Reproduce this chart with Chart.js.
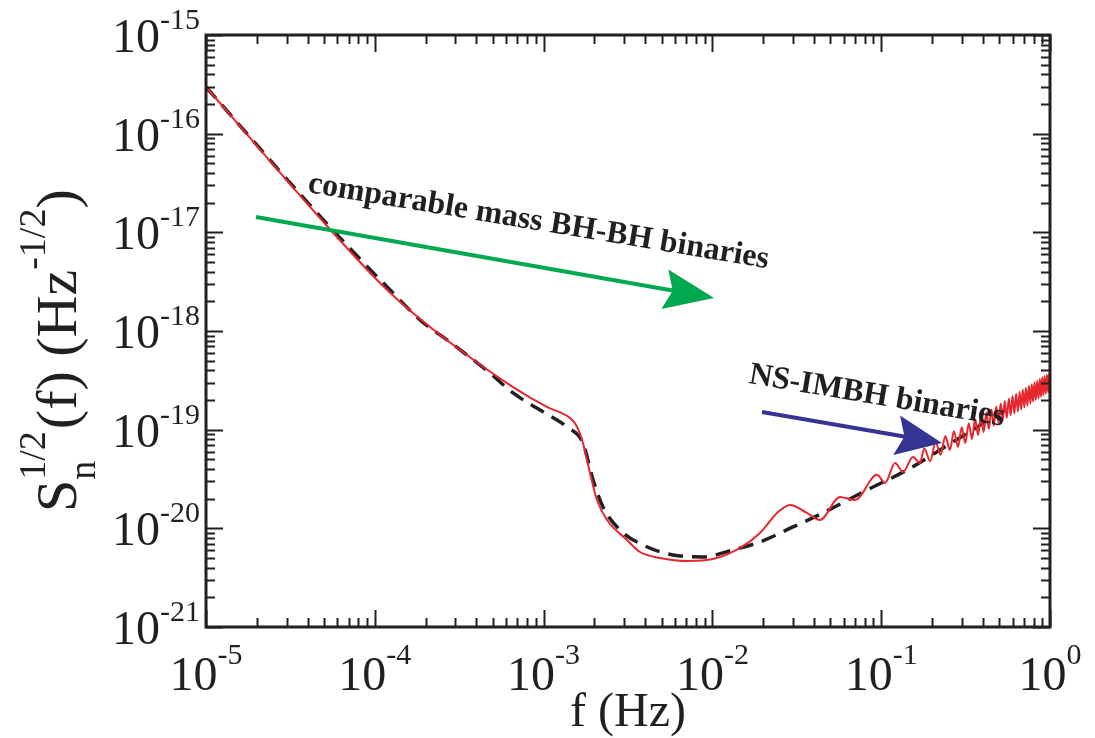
<!DOCTYPE html>
<html lang="en">
<head>
<meta charset="UTF-8">
<title>Sensitivity curve</title>
<script src="https://cdn.jsdelivr.net/npm/chart.js@4"></script>
<style>
    html, body { margin: 0; padding: 0; background: #fff; }
</style>
</head>
<body>
<canvas id="myChart" width="1095" height="738"></canvas>
<script>
// all values are log10: f in Hz, S_n^1/2 in Hz^-1/2
const v_fitLogF = [-5.000, -4.283, -3.892, -3.732, -3.572, -3.318, -3.181, -3.021, -2.861, -2.767,
    -2.707, -2.648, -2.547, -2.411, -2.233, -2.056, -1.878, -1.718, -1.522, -1.345,
    -1.084, -0.847, -0.652, -0.296, 0.000];
const v_fitLogS = [-15.527, -16.915, -17.615, -17.888, -18.091, -18.426, -18.628, -18.801, -18.973, -19.135,
    -19.510, -19.784, -20.017, -20.169, -20.270, -20.290, -20.219, -20.138, -19.986, -19.844,
    -19.611, -19.409, -19.206, -18.830, -18.517];

const v_simLogF = [-5.000, -4.283, -3.969, -3.774, -3.495, -3.181, -2.980, -2.844, -2.805, -2.767,
    -2.725, -2.684, -2.624, -2.506, -2.429, -2.310, -2.150, -1.996, -1.836, -1.718,
    -1.617, -1.540, -1.440, -1.363, -1.244, -1.155, -1.025, -0.977, -0.918, -0.870,
    -0.812, -0.770,
    -0.745, -0.710, -0.678, -0.648, -0.620, -0.593, -0.569, -0.545, -0.523, -0.502,
    -0.481, -0.462, -0.444, -0.426, -0.409, -0.393, -0.377, -0.362, -0.347, -0.333,
    -0.319, -0.305, -0.292, -0.280, -0.268, -0.256, -0.244, -0.233, -0.222, -0.211,
    -0.201, -0.190, -0.180, -0.171, -0.161, -0.152, -0.143, -0.134, -0.125, -0.116,
    -0.108, -0.100, -0.092, -0.084, -0.076, -0.068, -0.060, -0.053, -0.046, -0.039,
    -0.032, -0.025, -0.018, -0.011, -0.004, 0.000];
const v_simLogS = [-15.527, -16.936, -17.513, -17.818, -18.193, -18.568, -18.770, -18.882, -18.960, -19.135,
    -19.439, -19.713, -19.915, -20.118, -20.240, -20.300, -20.331, -20.311, -20.199, -20.047,
    -19.844, -19.763, -19.844, -19.915, -19.682, -19.712, -19.458, -19.540, -19.337, -19.428,
    -19.276, -19.337,
    -19.190, -19.320, -19.125, -19.255, -19.065, -19.205, -19.015, -19.175, -18.975, -19.135,
    -18.935, -19.095, -18.895, -19.055, -18.860, -19.025, -18.825, -18.990, -18.795, -18.960,
    -18.765, -18.930, -18.735, -18.905, -18.710, -18.880, -18.685, -18.855, -18.660, -18.835,
    -18.635, -18.815, -18.615, -18.795, -18.595, -18.775, -18.575, -18.755, -18.555, -18.735,
    -18.540, -18.715, -18.520, -18.700, -18.505, -18.685, -18.485, -18.665, -18.470, -18.650,
    -18.455, -18.635, -18.440, -18.625, -18.425, -18.520];

const v_xTickExps = [-5, -4, -3, -2, -1, 0];
const v_yTickExps = [-21, -20, -19, -18, -17, -16, -15];

// arrows: [start, tip] in log10 data units
const v_bhArrow = [[-4.704, -16.845], [-1.990, -17.665]];
const v_nsArrow = [[-1.706, -18.821], [-0.640, -19.135]];
const v_bhLabel = { text: "comparable mass BH-BH binaries", at: [-4.402, -16.591] };
const v_nsLabel = { text: "NS-IMBH binaries", at: [-1.789, -18.527] };

const c_ink = "#231f20";
const c_serif = '"Liberation Serif", "DejaVu Serif", serif';

function f_points(p_lf, p_ls) {
    let v_out = [];
    for (let i = 0; i < p_lf.length; i++) {
        v_out.push({ x: Math.pow(10, p_lf[i]), y: Math.pow(10, p_ls[i]) });
    }
    return v_out;
}

function f_px(p_chart, p_pt) {
    return [p_chart.scales.x.getPixelForValue(Math.pow(10, p_pt[0])),
            p_chart.scales.y.getPixelForValue(Math.pow(10, p_pt[1]))];
}

function f_arrow(ctx, p_chart, p_arrow, p_color, p_len, p_half) {
    let a = f_px(p_chart, p_arrow[0]);
    let b = f_px(p_chart, p_arrow[1]);
    let ang = Math.atan2(b[1] - a[1], b[0] - a[0]);
    let bx = b[0] - p_len * Math.cos(ang);
    let by = b[1] - p_len * Math.sin(ang);
    ctx.save();
    ctx.strokeStyle = p_color;
    ctx.fillStyle = p_color;
    ctx.lineWidth = 4;
    ctx.beginPath();
    ctx.moveTo(a[0], a[1]);
    ctx.lineTo(bx + 4 * Math.cos(ang), by + 4 * Math.sin(ang));
    ctx.stroke();
    ctx.beginPath();
    ctx.moveTo(b[0], b[1]);
    ctx.lineTo(bx - p_half * Math.sin(ang) - 8 * Math.cos(ang), by + p_half * Math.cos(ang) - 8 * Math.sin(ang));
    ctx.lineTo(bx, by);
    ctx.lineTo(bx + p_half * Math.sin(ang) - 8 * Math.cos(ang), by - p_half * Math.cos(ang) - 8 * Math.sin(ang));
    ctx.closePath();
    ctx.fill();
    ctx.restore();
}

function f_label(ctx, p_chart, p_label, p_deg) {
    let p = f_px(p_chart, p_label.at);
    ctx.save();
    ctx.translate(p[0], p[1]);
    ctx.rotate(p_deg * Math.PI / 180);
    ctx.font = "bold 32px " + c_serif;
    ctx.fillStyle = c_ink;
    ctx.textBaseline = "alphabetic";
    ctx.fillText(p_label.text, 0, 0);
    ctx.restore();
}

const framePlugin = {
    id: "frame",
    afterDatasetsDraw(chart) {
        const ctx = chart.ctx;
        const a = chart.chartArea;
        const sx = chart.scales.x, sy = chart.scales.y;

        f_arrow(ctx, chart, v_bhArrow, "#00a84f", 42, 20);
        f_arrow(ctx, chart, v_nsArrow, "#343492", 38, 20);
        f_label(ctx, chart, v_bhLabel, 9.4);
        f_label(ctx, chart, v_nsLabel, 9.5);

        ctx.save();
        ctx.strokeStyle = c_ink;
        ctx.lineWidth = 2;
        ctx.beginPath();
        // ticks on x (bottom and top), pointing inward
        for (let e = -5; e <= 0; e++) {
            for (let k = 1; k <= 9; k++) {
                let v = k * Math.pow(10, e);
                if (v > 1.0001) continue;
                let x = Math.round(sx.getPixelForValue(v)) + 0.5;
                let len = (k === 1) ? 17 : 9;
                ctx.moveTo(x, a.bottom); ctx.lineTo(x, a.bottom - len);
                ctx.moveTo(x, a.top); ctx.lineTo(x, a.top + len);
            }
        }
        // ticks on y (left and right)
        for (let e = -21; e <= -15; e++) {
            for (let k = 1; k <= 9; k++) {
                let v = k * Math.pow(10, e);
                if (v > 1.0001e-15) continue;
                let y = Math.round(sy.getPixelForValue(v)) + 0.5;
                let len = (k === 1) ? 17 : 9;
                ctx.moveTo(a.left, y); ctx.lineTo(a.left + len, y);
                ctx.moveTo(a.right, y); ctx.lineTo(a.right - len, y);
            }
        }
        ctx.stroke();
        ctx.lineWidth = 3;
        ctx.strokeRect(a.left, a.top, a.right - a.left, a.bottom - a.top);
        ctx.restore();
    },
    afterDraw(chart) {
        const ctx = chart.ctx;
        const a = chart.chartArea;
        const sx = chart.scales.x, sy = chart.scales.y;
        const big = "48px " + c_serif;
        const small = "30px " + c_serif;
        ctx.save();
        ctx.fillStyle = c_ink;
        ctx.textBaseline = "alphabetic";
        ctx.textAlign = "left";

        // x tick labels
        for (const e of v_xTickExps) {
            let x = sx.getPixelForValue(Math.pow(10, e));
            ctx.font = big;
            let w10 = ctx.measureText("10").width;
            ctx.font = small;
            let we = ctx.measureText(String(e)).width;
            let x0 = x - (w10 + we) / 2;
            ctx.font = big;
            ctx.fillText("10", x0, 690);
            ctx.font = small;
            ctx.fillText(String(e), x0 + w10, 664);
        }
        // y tick labels
        for (const e of v_yTickExps) {
            let y = sy.getPixelForValue(Math.pow(10, e));
            ctx.font = small;
            let we = ctx.measureText(String(e)).width;
            ctx.font = big;
            let w10 = ctx.measureText("10").width;
            let xEnd = a.left - 6;
            ctx.fillText("10", xEnd - we - w10, y + 17);
            ctx.font = small;
            ctx.fillText(String(e), xEnd - we, y - 6);
        }

        // x title
        ctx.font = big;
        ctx.textAlign = "center";
        ctx.fillText("f (Hz)", (a.left + a.right) / 2, 726);

        // y title, rotated
        ctx.textAlign = "left";
        ctx.translate(76, 512);
        ctx.rotate(-Math.PI / 2);
        const tBig = "58px " + c_serif;
        const tSmall = "38px " + c_serif;
        let x = 0;
        ctx.font = tBig;
        ctx.fillText("S", x, 0);
        x += ctx.measureText("S").width;
        ctx.font = tSmall;
        ctx.fillText("n", x, 19);
        ctx.fillText("1/2", x, -31);
        x += Math.max(ctx.measureText("n").width, ctx.measureText("1/2").width) + 2;
        ctx.font = tBig;
        ctx.fillText("(f) (Hz", x, 0);
        x += ctx.measureText("(f) (Hz").width;
        ctx.font = tSmall;
        ctx.fillText("-1/2", x, -31);
        x += ctx.measureText("-1/2").width;
        ctx.font = tBig;
        ctx.fillText(")", x, 0);
        ctx.restore();
    }
};

const ctx = document.getElementById("myChart");
let myChart = new Chart(ctx, {
    type: "line",
    data: {
        datasets: [{
            data: f_points(v_simLogF, v_simLogS),
            borderColor: "#e8262d",
            borderWidth: 2,
            pointRadius: 0,
            cubicInterpolationMode: "monotone"
        }, {
            data: f_points(v_fitLogF, v_fitLogS),
            borderColor: c_ink,
            borderWidth: 3.5,
            borderDash: [15, 9],
            pointRadius: 0,
            cubicInterpolationMode: "monotone"
        }]
    },
    options: {
        responsive: false,
        animation: false,
        events: [],
        layout: { padding: { left: 206, right: 45, top: 35, bottom: 111 } },
        plugins: { legend: { display: false }, tooltip: { enabled: false } },
        scales: {
            x: { type: "logarithmic", min: 1e-5, max: 1, display: false },
            y: { type: "logarithmic", min: 1e-21, max: 1e-15, display: false }
        }
    },
    plugins: [framePlugin]
});
</script>
</body>
</html>
